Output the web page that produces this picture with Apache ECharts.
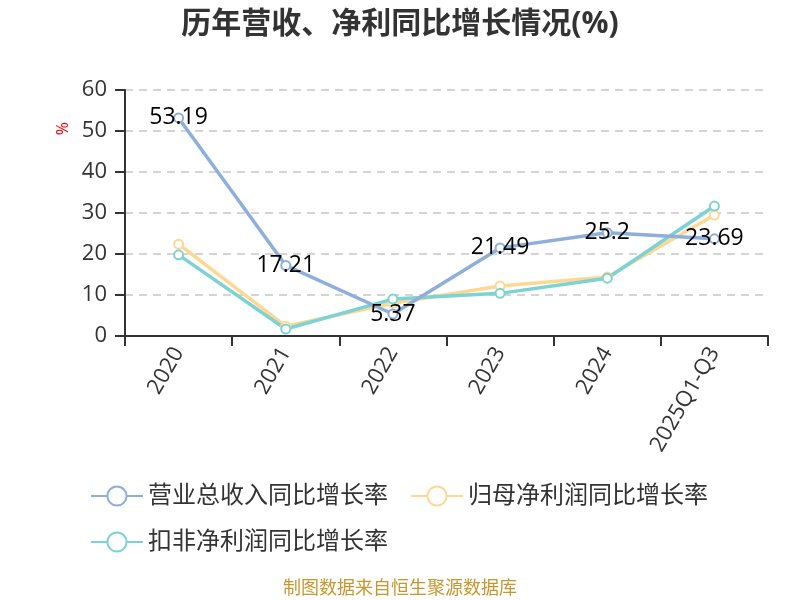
<!DOCTYPE html>
<html><head><meta charset="utf-8">
<script src="https://cdn.jsdelivr.net/npm/echarts@6/dist/echarts.min.js"></script>
<style>html,body{margin:0;padding:0;background:#fff}#c{width:800px;height:600px}</style>
</head><body><div id="c"></div>
<script>
var categories = ['2020','2021','2022','2023','2024','2025Q1-Q3'];
var revenueGrowth = [53.19, 17.21, 5.37, 21.49, 25.2, 23.69];
var netProfitGrowth = [22.4, 2.4, 8.0, 12.2, 14.4, 29.5];
var deductedProfitGrowth = [19.8, 1.7, 9.0, 10.4, 14.1, 31.7];
var seriesNames = ['营业总收入同比增长率','归母净利润同比增长率','扣非净利润同比增长率'];
var yTicks = [0,10,20,30,40,50,60];

var chart = echarts.init(document.getElementById('c'));
var font = '"Open Sans","Noto Sans CJK SC",sans-serif';
function mk(name, data, color, label) {
  return {
    name: name, type: 'line', data: data, symbol: 'emptyCircle', symbolSize: 9,
    lineStyle: {width: 3.5, color: color}, itemStyle: {color: color, borderWidth: 2},
    label: {show: label, position: 'inside', color: '#000', fontSize: 23, fontFamily: font},
    z: label ? 3 : 2
  };
}
chart.setOption({
  backgroundColor: '#fff',
  textStyle: {fontFamily: font},
  title: {text: '历年营收、净利同比增长情况(%)', left: 'center', top: 4,
    textStyle: {fontSize: 30, fontWeight: 'bold', color: '#333', fontFamily: font}},
  grid: {left: 125, right: 32, top: 90, bottom: 264},
  legend: {left: 85, top: 479, width: 680, itemWidth: 52, itemHeight: 24, itemGap: 22,
    textStyle: {fontSize: 24, color: '#333', fontFamily: font},
    data: seriesNames},
  xAxis: {type: 'category', data: categories, boundaryGap: true,
    axisLine: {lineStyle: {color: '#333', width: 2}},
    axisTick: {show: true, length: 10, lineStyle: {width: 2}},
    axisLabel: {rotate: 60, fontSize: 22, color: '#333', margin: 13, fontFamily: font}},
  yAxis: {type: 'value', min: yTicks[0], max: yTicks[yTicks.length-1], interval: 10,
    axisLine: {show: true, lineStyle: {color: '#333', width: 2}},
    axisTick: {show: true, length: 10, lineStyle: {width: 2}},
    axisLabel: {fontSize: 22, color: '#333', margin: 18, fontFamily: font},
    splitLine: {lineStyle: {type: [8, 6], color: '#c8c8c8', width: 1.5}}},
  graphic: [
    {type: 'text', left: 55, top: 122, rotation: Math.PI/2,
      style: {text: '%', fill: '#e00', fontSize: 16, fontFamily: font}},
    {type: 'text', left: 'center', top: 580,
      style: {text: '制图数据来自恒生聚源数据库', fill: '#c8962e', fontSize: 18, fontFamily: font}}
  ],
  series: [
    mk(seriesNames[0], revenueGrowth, '#8eaedc', true),
    mk(seriesNames[1], netProfitGrowth, '#fdd893', false),
    mk(seriesNames[2], deductedProfitGrowth, '#7dd3d3', false)
  ]
});
</script></body></html>
